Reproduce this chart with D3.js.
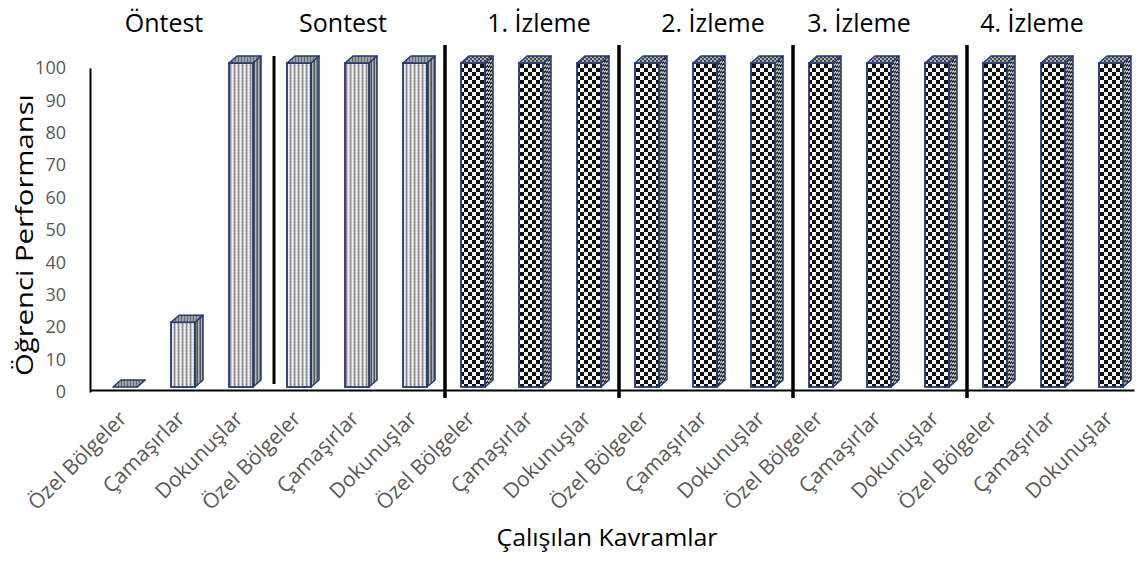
<!DOCTYPE html>
<html>
<head>
<meta charset="utf-8">
<script src="https://cdn.jsdelivr.net/npm/d3@7"></script>
<style>
  body { margin: 0; background: #fff; }
  text { font-family: "Open Sans", "Noto Sans", sans-serif; }
</style>
</head>
<body>
<div id="chart"></div>
<script>
// data
var phases = ["Öntest", "Sontest", "1. İzleme", "2. İzleme", "3. İzleme", "4. İzleme"];
var concepts = ["Özel Bölgeler", "Çamaşırlar", "Dokunuşlar"];
var values = [0, 20, 100,
              100, 100, 100,
              100, 100, 100,
              100, 100, 100,
              100, 100, 100,
              100, 100, 100];
var yTicks = [0, 10, 20, 30, 40, 50, 60, 70, 80, 90, 100];

var width = 1136, height = 562;
// the phase titles are hand-placed text boxes, nudged off the group centre
var titleShift = [-13, -8, 14, 14, -14, -15];

var rows = [];
phases.forEach(function(p, i) {
  concepts.forEach(function(c, j) {
    rows.push({ key: p + "|" + c, phase: p, concept: c, value: values[i * 3 + j], testPhase: i < 2 });
  });
});

var svg = d3.select("#chart").append("svg")
  .attr("width", width)
  .attr("height", height);

// patterns
var defs = svg.append("defs");

var p1 = defs.append("pattern").attr("id", "stripeFront")
  .attr("patternUnits", "userSpaceOnUse").attr("width", 4).attr("height", 3);
p1.append("rect").attr("width", 4).attr("height", 3).attr("fill", "#c2c2c2");
p1.append("rect").attr("x", 0).attr("width", 1).attr("height", 3).attr("fill", "#efefef");
p1.append("rect").attr("x", 2).attr("width", 1).attr("height", 3).attr("fill", "#8f8f8f");
p1.append("rect").attr("x", 1).attr("y", 1).attr("width", 1).attr("height", 1).attr("fill", "#e2e2e2");

var p2 = defs.append("pattern").attr("id", "stripeSide")
  .attr("patternUnits", "userSpaceOnUse").attr("width", 3).attr("height", 3);
p2.append("rect").attr("width", 3).attr("height", 3).attr("fill", "#808080");
p2.append("rect").attr("x", 0).attr("width", 1).attr("height", 3).attr("fill", "#b5b5b5");
p2.append("rect").attr("x", 2).attr("width", 1).attr("height", 3).attr("fill", "#555");

var p3 = defs.append("pattern").attr("id", "stripeTop")
  .attr("patternUnits", "userSpaceOnUse").attr("width", 3).attr("height", 2);
p3.append("rect").attr("width", 3).attr("height", 2).attr("fill", "#a0a0a0");
p3.append("rect").attr("x", 1).attr("width", 1).attr("height", 2).attr("fill", "#6b6b6b");

var c1 = defs.append("pattern").attr("id", "checkFront")
  .attr("patternUnits", "userSpaceOnUse").attr("width", 8).attr("height", 8);
c1.append("rect").attr("width", 8).attr("height", 8).attr("fill", "#ffffff");
c1.append("rect").attr("width", 4).attr("height", 4).attr("fill", "#111");
c1.append("rect").attr("x", 4).attr("y", 4).attr("width", 4).attr("height", 4).attr("fill", "#111");

var c2 = defs.append("pattern").attr("id", "checkSide")
  .attr("patternUnits", "userSpaceOnUse").attr("width", 4).attr("height", 4)
  .attr("patternTransform", "skewY(-40)");
c2.append("rect").attr("width", 4).attr("height", 4).attr("fill", "#c4c4c4");
c2.append("rect").attr("width", 2).attr("height", 2).attr("fill", "#222");
c2.append("rect").attr("x", 2).attr("y", 2).attr("width", 2).attr("height", 2).attr("fill", "#222");

var c3 = defs.append("pattern").attr("id", "checkTop")
  .attr("patternUnits", "userSpaceOnUse").attr("width", 4).attr("height", 4);
c3.append("rect").attr("width", 4).attr("height", 4).attr("fill", "#b0b0b0");
c3.append("rect").attr("width", 2).attr("height", 2).attr("fill", "#444");
c3.append("rect").attr("x", 2).attr("y", 2).attr("width", 2).attr("height", 2).attr("fill", "#444");

// scales
var x = d3.scaleBand()
  .domain(rows.map(function(d) { return d.key; }))
  .range([90, 1134]);

var y = d3.scaleLinear().domain([0, 100]).range([392, 68]);
var yBar = d3.scaleLinear().domain([0, 100]).range([387, 63]);

// y axis
var yAxis = svg.append("g")
  .attr("transform", "translate(90,0)")
  .call(d3.axisLeft(y).tickValues(yTicks).tickSize(0).tickPadding(24));
yAxis.select(".domain").attr("stroke", "#000").attr("stroke-width", 2);
yAxis.selectAll("text")
  .attr("fill", "#595959")
  .style("font-size", "18px")
  .style("font-family", "'Open Sans', sans-serif");

// x axis
var xAxis = svg.append("g")
  .attr("transform", "translate(0,390)")
  .call(d3.axisBottom(x).tickSize(0).tickFormat(""));
xAxis.select(".domain").attr("stroke", "#000").attr("stroke-width", 2);

svg.append("g").selectAll("text")
  .data(rows)
  .enter()
  .append("text")
  .attr("transform", function(d) {
    return "translate(" + (x(d.key) + x.bandwidth() / 2 + 9) + ",420) rotate(-45)";
  })
  .attr("text-anchor", "end")
  .attr("fill", "#595959")
  .style("font-size", "21px")
  .text(function(d) { return d.concept; });

// separators between phases
var sep = svg.append("g");
phases.slice(1).forEach(function(p, i) {
  var xb = x(p + "|" + concepts[0]);
  if (i === 0) {
    sep.append("line")
      .attr("x1", xb + 10).attr("x2", xb + 10)
      .attr("y1", 56).attr("y2", 384)
      .attr("stroke", "#000").attr("stroke-width", 3);
  } else {
    sep.append("line")
      .attr("x1", xb + 7).attr("x2", xb + 7)
      .attr("y1", 45).attr("y2", 398)
      .attr("stroke", "#000").attr("stroke-width", 3.5);
  }
});

// bars, fake 3D
var w = 24, dx = 8, dy = 7;
var bars = svg.append("g").selectAll("g")
  .data(rows)
  .enter()
  .append("g");

bars.each(function(d) {
  var g = d3.select(this);
  var x0 = x(d.key) + 23;
  var y0 = yBar(0), y1 = yBar(d.value);
  var front = d.testPhase ? "url(#stripeFront)" : "url(#checkFront)";
  var side = d.testPhase ? "url(#stripeSide)" : "url(#checkSide)";
  var top = d.testPhase ? "url(#stripeTop)" : "url(#checkTop)";

  g.append("polygon")
    .attr("points", [[x0 + w, y1], [x0 + w + dx, y1 - dy], [x0 + w + dx, y0 - dy], [x0 + w, y0]].join(" "))
    .attr("fill", side)
    .attr("stroke", "#1f3a7a").attr("stroke-width", 1.5).attr("stroke-linejoin", "round");
  if (y0 - y1 > 0) {
    g.append("rect")
      .attr("x", x0).attr("y", y1)
      .attr("width", w).attr("height", y0 - y1)
      .attr("fill", front)
      .attr("stroke", "#1f3a7a").attr("stroke-width", 1.8);
  }
  g.append("polygon")
    .attr("points", [[x0, y1], [x0 + dx, y1 - dy], [x0 + w + dx, y1 - dy], [x0 + w, y1]].join(" "))
    .attr("fill", top)
    .attr("stroke", "#1f3a7a").attr("stroke-width", 1.5).attr("stroke-linejoin", "round");
});

// phase titles
svg.append("g").selectAll("text")
  .data(phases)
  .enter()
  .append("text")
  .attr("x", function(p, i) { return x(p + "|" + concepts[1]) + x.bandwidth() / 2 + titleShift[i]; })
  .attr("y", 32)
  .attr("text-anchor", "middle")
  .attr("fill", "#000")
  .style("font-size", "25px")
  .text(function(p) { return p; });

// axis titles
svg.append("text")
  .attr("transform", "translate(33,235) rotate(-90)")
  .attr("text-anchor", "middle")
  .attr("fill", "#000")
  .attr("textLength", 282)
  .attr("lengthAdjust", "spacingAndGlyphs")
  .style("font-size", "24px")
  .text("Öğrenci Performansı");

svg.append("text")
  .attr("x", 607)
  .attr("y", 546)
  .attr("text-anchor", "middle")
  .attr("fill", "#000")
  .attr("textLength", 221)
  .attr("lengthAdjust", "spacingAndGlyphs")
  .style("font-size", "23px")
  .text("Çalışılan Kavramlar");
</script>
</body>
</html>
